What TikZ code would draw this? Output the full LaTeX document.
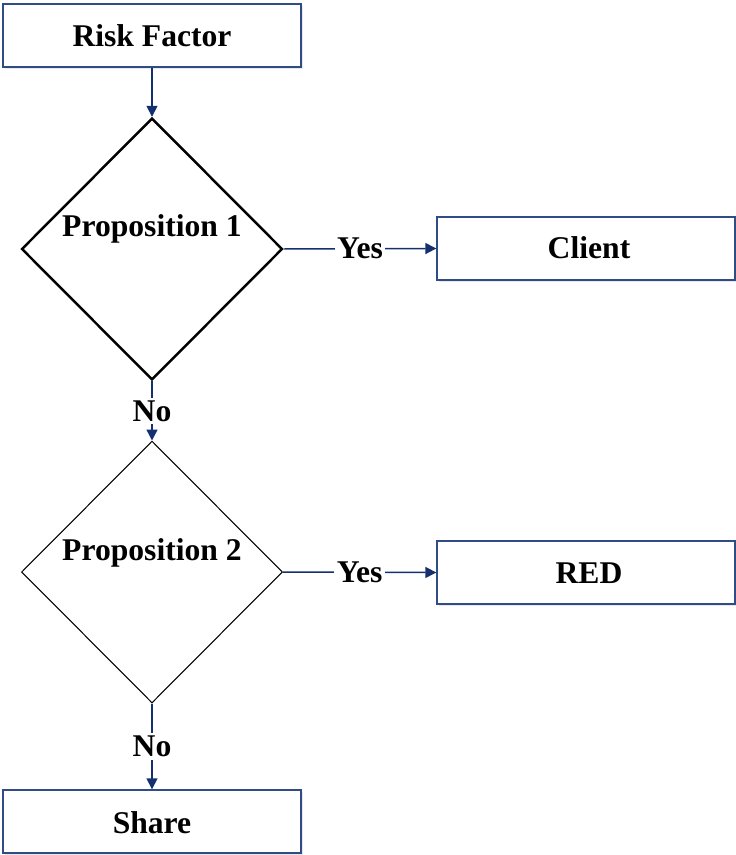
\documentclass[tikz,border=0pt]{standalone}
\usepackage{fontspec}
\setmainfont{Liberation Serif}
\usetikzlibrary{arrows.meta,shapes.geometric,shadows}
\definecolor{boxblue}{HTML}{2F4C86}
\definecolor{linkblue}{HTML}{14306E}
\newcommand{\boxw}{5.96cm}
\newcommand{\boxh}{1.26cm}
\tikzset{
  stepbox/.style={draw=boxblue, line width=0.8pt, fill=white, minimum width=\boxw, minimum height=\boxh, inner sep=0pt,
    drop shadow={opacity=0.18, shadow xshift=1.2pt, shadow yshift=-1.2pt}},
  choice/.style={diamond, draw=black, fill=white, minimum width=5.22cm, minimum height=5.24cm, inner sep=0pt},
  link/.style={draw=linkblue, line width=0.85pt, -{Triangle[length=2.2mm,width=2.2mm]}},
  answer/.style={fill=white, inner sep=1.5pt},
}

\begin{document}
\begin{tikzpicture}[x=0.02cm, y=-0.02cm, font=\bfseries\fontsize{18}{20}\selectfont]
\useasboundingbox (0,0) rectangle (735,855);
\node[stepbox] (risk) at (152, 35.5) {};
\node (risktext) at (152, 36) {Risk Factor};
\node[choice, line width=1.4pt] (p1) at (152, 249) {};
\node (p1text) at (152, 229) {Proposition 1};
\node[stepbox] (client) at (586, 248.5) {};
\node (clienttext) at (589, 248) {Client};
\node[choice, line width=0.6pt] (p2) at (152, 572) {};
\node (p2text) at (152, 553) {Proposition 2};
\node[stepbox] (red) at (586, 572.5) {};
\node (redtext) at (589, 573) {RED};
\node[stepbox] (share) at (152, 821.5) {};
\node (sharetext) at (152, 823) {Share};
%links
\draw[link] (risk.south) -- (p1.north);
\draw[link] (p1.east) -- node[answer] (yes1) {Yes} (client.west);
\draw[link] (p1.south) -- node[answer] (no1) {No} (p2.north);
\draw[link] (p2.east) -- node[answer] (yes2) {Yes} (red.west);
\draw[link] (p2.south) -- node[answer] (no2) {No} (share.north);
\end{tikzpicture}
\end{document}
